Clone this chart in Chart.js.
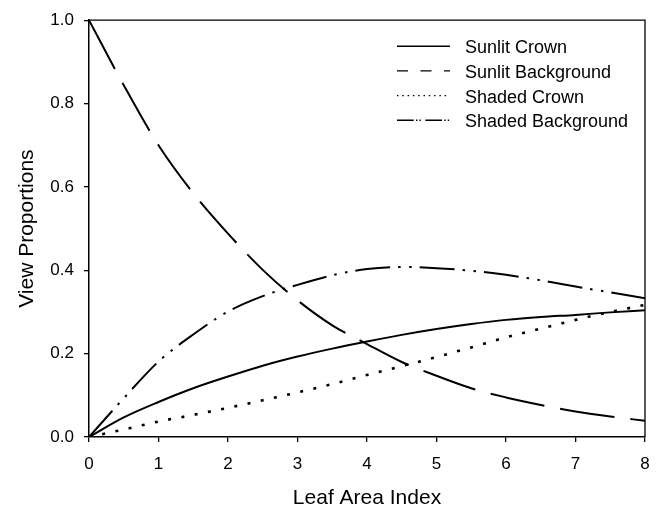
<!DOCTYPE html>
<html>
<head>
<meta charset="utf-8">
<script src="https://cdn.jsdelivr.net/npm/chart.js@4.4.1/dist/chart.umd.min.js"></script>
<style>
  html, body { margin: 0; padding: 0; background: #fff; }
  #wrap { width: 662px; height: 512px; }
</style>
</head>
<body>
<div id="wrap"><canvas id="viewChart" width="662" height="512"></canvas></div>
<script>
"use strict";

// view proportions against leaf area index, sampled every 0.5
var leafAreaIndex    = [0, 0.5, 1, 1.5, 2, 2.5, 3, 3.5, 4, 4.5, 5, 5.5, 6, 6.5, 7, 7.5, 8];
var sunlitCrown      = [0, 0.047, 0.084, 0.117, 0.145, 0.171, 0.193, 0.212, 0.229, 0.245, 0.259, 0.271, 0.281, 0.288, 0.293, 0.299, 0.304];
var sunlitBackground = [1.0, 0.844, 0.700, 0.585, 0.488, 0.401, 0.328, 0.268, 0.223, 0.180, 0.147, 0.117, 0.095, 0.077, 0.061, 0.049, 0.039];
var shadedCrown      = [0, 0.018, 0.037, 0.053, 0.070, 0.088, 0.107, 0.127, 0.149, 0.170, 0.192, 0.215, 0.239, 0.260, 0.281, 0.300, 0.317];
var shadedBackground = [0, 0.093, 0.181, 0.246, 0.301, 0.338, 0.365, 0.388, 0.403, 0.408, 0.405, 0.399, 0.389, 0.376, 0.361, 0.347, 0.333];

var seriesLabels = ["Sunlit Crown", "Sunlit Background", "Shaded Crown", "Shaded Background"];
var xTickValues  = [0, 1, 2, 3, 4, 5, 6, 7, 8];
var yTickValues  = [0, 0.2, 0.4, 0.6, 0.8, 1.0];

var FONT = "'Liberation Sans', Arial, Helvetica, sans-serif";

function toPoints(values)
{
    return leafAreaIndex.map(function (x, i)
    {
        return {x: x, y: values[i]};
    });
}

function makeSeries(label, values, dash, width, keyDash, keyWidth)
{
    return {
        label:                  label,
        data:                   toPoints(values),
        borderColor:            "#000",
        backgroundColor:        "#000",
        borderWidth:            width,
        borderDash:             dash,
        borderCapStyle:         "butt",
        fill:                   false,
        pointRadius:            0,
        pointHoverRadius:       0,
        cubicInterpolationMode: "monotone",
        keyDash:                keyDash,
        keyWidth:               keyWidth
    };
}

// top/right frame lines plus the line-style key in the upper right
var frameAndKey = {
    id: "frameAndKey",
    afterDraw: function (chart, args, opts)
    {
        var ctx  = chart.ctx;
        var area = chart.chartArea;

        ctx.save();
        ctx.strokeStyle = "#000";
        ctx.lineWidth   = 1.3;
        ctx.beginPath();
        ctx.moveTo(area.left, area.top);
        ctx.lineTo(area.right, area.top);
        ctx.lineTo(area.right, area.bottom);
        ctx.stroke();

        ctx.font         = "18px " + FONT;
        ctx.textBaseline = "middle";
        ctx.textAlign    = "left";
        ctx.fillStyle    = "#000";

        chart.data.datasets.forEach(function (ds, i)
        {
            var y  = area.top + opts.top + i * opts.rowGap;
            var x0 = area.left + opts.left;

            ctx.lineWidth = ds.keyWidth;
            ctx.setLineDash(ds.keyDash);
            ctx.beginPath();
            ctx.moveTo(x0, y);
            ctx.lineTo(x0 + opts.sample, y);
            ctx.stroke();
            ctx.setLineDash([]);

            ctx.fillText(ds.label, x0 + opts.sample + opts.gap, y + 2);
        });
        ctx.restore();
    }
};

new Chart(document.getElementById("viewChart"), {
    type:    "line",
    data:    {
        datasets: [
            makeSeries(seriesLabels[0], sunlitCrown, [], 2, [], 1.4),
            makeSeries(seriesLabels[1], sunlitBackground, [55, 16], 2, [11, 12.5], 1.4),
            makeSeries(seriesLabels[2], shadedCrown, [3, 10.5], 2.6, [1.5, 3.8], 1.4),
            makeSeries(seriesLabels[3], shadedBackground, [35, 8, 2.5, 8.5, 2.5, 8], 2, [16.7, 2.3, 1.4, 2, 1.4, 4.5], 1.4)
        ]
    },
    options: {
        responsive:  false,
        animation:   false,
        events:      [],
        layout:      {
            padding: {left: 0, right: 17, top: 19, bottom: 0}
        },
        plugins:     {
            legend:      {display: false},
            tooltip:     {enabled: false},
            frameAndKey: {left: 308, top: 26, rowGap: 24.7, sample: 53, gap: 15}
        },
        scales:      {
            x: {
                type:            "linear",
                min:             0,
                max:             8,
                afterBuildTicks: function (scale)
                {
                    scale.ticks = xTickValues.map(function (v) { return {value: v}; });
                },
                afterFit:        function (scale)
                {
                    scale.height = 75;
                },
                grid:            {
                    display:         true,
                    drawOnChartArea: false,
                    drawTicks:       true,
                    tickLength:      5,
                    color:           "#000",
                    lineWidth:       1.3
                },
                border:          {display: true, color: "#000", width: 1.5},
                ticks:           {
                    color:       "#000",
                    padding:     12,
                    maxRotation: 0,
                    font:        {family: FONT, size: 17},
                    callback:    function (v) { return String(v); }
                },
                title:           {
                    display: true,
                    text:    "Leaf Area Index",
                    color:   "#000",
                    font:    {family: FONT, size: 21},
                    padding: {top: 0, bottom: 1}
                }
            },
            y: {
                type:            "linear",
                min:             0,
                max:             1,
                afterBuildTicks: function (scale)
                {
                    scale.ticks = yTickValues.map(function (v) { return {value: v}; });
                },
                afterFit:        function (scale)
                {
                    scale.width = 89;
                },
                grid:            {
                    display:         true,
                    drawOnChartArea: false,
                    drawTicks:       true,
                    tickLength:      5,
                    color:           "#000",
                    lineWidth:       1.3
                },
                border:          {display: true, color: "#000", width: 1.5},
                ticks:           {
                    color:    "#000",
                    padding:  10,
                    font:     {family: FONT, size: 17},
                    callback: function (v) { return v.toFixed(1); }
                },
                title:           {
                    display: true,
                    text:    "View Proportions",
                    color:   "#000",
                    font:    {family: FONT, size: 21},
                    padding: {top: 15, bottom: 0}
                }
            }
        }
    },
    plugins: [frameAndKey]
});
</script>
</body>
</html>
